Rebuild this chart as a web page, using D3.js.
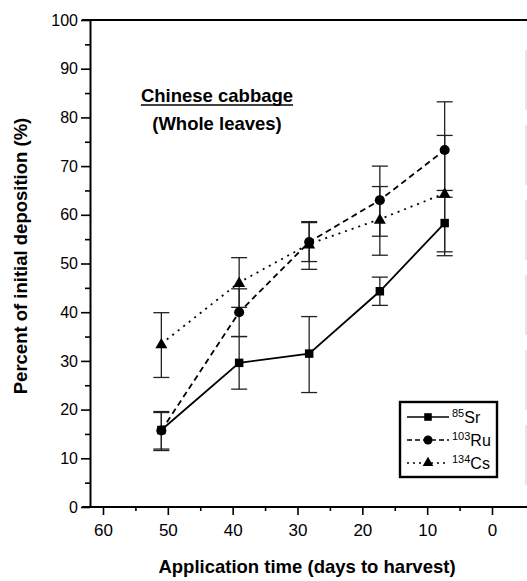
<!DOCTYPE html>
<html>
<head>
<meta charset="utf-8">
<script src="https://cdn.jsdelivr.net/npm/d3@7"></script>
<style>
	body { margin: 0; background: #fff; }
	svg { display: block; }
	text { font-family: "Liberation Sans", Arial, Helvetica, sans-serif; fill: #000; }
	.tick text { font-size: 16px; }
	.bold { font-weight: bold; font-size: 18.5px; }
</style>
</head>
<body>
<svg></svg>
<script>

// DATA

var days = [51, 39, 28.2, 17.3, 7.3]

var sr   = [15.8, 29.6, 31.5, 44.3, 58.3]
var srLo = [11.9, 24.2, 23.5, 41.4, 51.6]
var srHi = [19.6, 35.0, 39.1, 47.2, 65.0]

var ru   = [15.7, 40.0, 54.4, 63.0, 73.3]
var ruLo = [11.6, 35.0, 50.4, 55.6, 63.6]
var ruHi = [19.4, 44.8, 58.4, 70.0, 83.2]

var cs   = [33.5, 46.1, 54.0, 59.1, 64.4]
var csLo = [26.6, 41.0, 48.8, 51.7, 52.4]
var csHi = [39.9, 51.2, 58.6, 65.8, 76.3]

var xTicks = [60, 50, 40, 30, 20, 10, 0]
var yTicks = [0, 10, 20, 30, 40, 50, 60, 70, 80, 90, 100]

var seriesNames = ['85', '103', '134']
var seriesElems = ['Sr', 'Ru', 'Cs']

// VIS

var width = 527
var height = 581

var svg = d3.select("svg")
	.attr("width", width)
	.attr("height", height)

var x = d3.scaleLinear().domain([60, 0]).range([103, 492])
var y = d3.scaleLinear().domain([0, 100]).range([507, 20])

var series = [
	{ vals: sr, lo: srLo, hi: srHi, dash: null,  shape: d3.symbolSquare,   size: 72 },
	{ vals: ru, lo: ruLo, hi: ruHi, dash: "6,4", shape: d3.symbolCircle,   size: 80 },
	{ vals: cs, lo: csLo, hi: csHi, dash: "2,5", shape: d3.symbolTriangle, size: 62 }
]

// AXES

var yAxis = svg.append("g")
	.attr("transform", "translate(90,0)")
	.call(d3.axisLeft(y).tickValues(yTicks).tickSize(9).tickSizeOuter(0).tickPadding(3))

yAxis.select(".domain").attr("stroke-width", 2)
yAxis.selectAll(".tick line").attr("stroke-width", 1.6)

svg.append("g")
	.attr("transform", "translate(90,0)")
	.call(d3.axisLeft(y).tickValues(d3.range(5, 100, 10)).tickSize(5).tickFormat(""))
	.call(function(g){ g.select(".domain").remove() })
	.selectAll("line").attr("stroke-width", 1.6)

var xAxis = svg.append("g")
	.attr("transform", "translate(0,507)")
	.call(d3.axisBottom(x).tickValues(xTicks).tickSize(8).tickSizeOuter(0).tickPadding(9))

xAxis.select(".domain").remove()
xAxis.selectAll(".tick line").attr("stroke-width", 1.6)
xAxis.selectAll(".tick text").style("font-size", "17px")

svg.append("g")
	.attr("transform", "translate(0,507)")
	.call(d3.axisBottom(x).tickValues(d3.range(55, 0, -10)).tickSize(4).tickFormat(""))
	.call(function(g){ g.select(".domain").remove() })
	.selectAll("line").attr("stroke-width", 1.6)

// frame lines
svg.append("line")
	.attr("x1", 82).attr("x2", width)
	.attr("y1", y(0)).attr("y2", y(0))
	.attr("stroke", "#000").attr("stroke-width", 2)

svg.append("line")
	.attr("x1", 82).attr("x2", width)
	.attr("y1", y(100)).attr("y2", y(100))
	.attr("stroke", "#000").attr("stroke-width", 2.2)

// edge of the next panel, faint and broken
svg.append("line")
	.attr("x1", 526).attr("x2", 526)
	.attr("y1", 50).attr("y2", 500)
	.attr("stroke", "#ccc").attr("stroke-width", 1)
	.attr("stroke-dasharray", "60,15")

// TITLES

svg.append("text")
	.attr("class", "bold")
	.attr("text-anchor", "middle")
	.attr("x", 307).attr("y", 573)
	.text("Application time (days to harvest)")

svg.append("text")
	.attr("class", "bold")
	.attr("text-anchor", "middle")
	.attr("transform", "translate(27,256) rotate(-90)")
	.text("Percent of initial deposition (%)")

var title = svg.append("text")
	.attr("class", "bold")
	.attr("text-anchor", "middle")
	.attr("x", 217).attr("y", 102)
	.text("Chinese cabbage")

var tw = title.node().getComputedTextLength()
svg.append("line")
	.attr("x1", 217 - tw / 2).attr("x2", 217 + tw / 2)
	.attr("y1", 105).attr("y2", 105)
	.attr("stroke", "#000").attr("stroke-width", 1.6)

svg.append("text")
	.attr("class", "bold")
	.attr("text-anchor", "middle")
	.attr("x", 217).attr("y", 130)
	.text("(Whole leaves)")

// ERROR BARS

var bars = svg.append("g").attr("class", "errors")

series.forEach(function(s){
	days.forEach(function(d, i){
		var g = bars.append("g").attr("stroke", "#222").attr("stroke-width", 1.3)
		g.append("line")
			.attr("x1", x(d)).attr("x2", x(d))
			.attr("y1", y(s.lo[i])).attr("y2", y(s.hi[i]))
		g.selectAll(".cap").data([s.lo[i], s.hi[i]]).enter()
			.append("line")
			.attr("x1", x(d) - 8).attr("x2", x(d) + 8)
			.attr("y1", function(v){ return y(v) })
			.attr("y2", function(v){ return y(v) })
	})
})

// LINES

var line = d3.line()
	.x(function(d, i){ return x(days[i]) })
	.y(function(d){ return y(d) })

series.forEach(function(s){
	svg.append("path")
		.datum(s.vals)
		.attr("d", line)
		.attr("fill", "none")
		.attr("stroke", "#000")
		.attr("stroke-width", 1.8)
		.attr("stroke-dasharray", s.dash)
})

// MARKERS

series.forEach(function(s){
	svg.append("g").selectAll("path")
		.data(s.vals).enter()
		.append("path")
		.attr("d", d3.symbol().type(s.shape).size(s.size))
		.attr("transform", function(d, i){
			var dy = s.shape === d3.symbolTriangle ? 1 : 0
			return "translate(" + x(days[i]) + "," + (y(d) + dy) + ")"
		})
		.attr("fill", "#000")
})

// LEGEND

var legend = svg.append("g").attr("class", "legend")

legend.append("rect")
	.attr("x", 400).attr("y", 402)
	.attr("width", 97).attr("height", 75)
	.attr("fill", "#fff")
	.attr("stroke", "#000")
	.attr("stroke-width", 2.4)

series.forEach(function(s, i){
	var ly = 417 + i * 23
	legend.append("line")
		.attr("x1", 407).attr("x2", 449)
		.attr("y1", ly).attr("y2", ly)
		.attr("stroke", "#000")
		.attr("stroke-width", 1.5)
		.attr("stroke-dasharray", s.dash ? (i == 1 ? "5,3" : "2,4") : null)
	legend.append("path")
		.attr("d", d3.symbol().type(s.shape).size(s.size * 0.8))
		.attr("transform", "translate(428," + ly + ")")
		.attr("fill", "#000")
	var t = legend.append("text")
		.attr("x", 452).attr("y", ly + 6)
	t.append("tspan")
		.attr("dy", -6)
		.style("font-size", "11px")
		.text(seriesNames[i])
	t.append("tspan")
		.attr("dy", 6)
		.style("font-size", "16px")
		.text(seriesElems[i])
})

</script>
</body>
</html>
